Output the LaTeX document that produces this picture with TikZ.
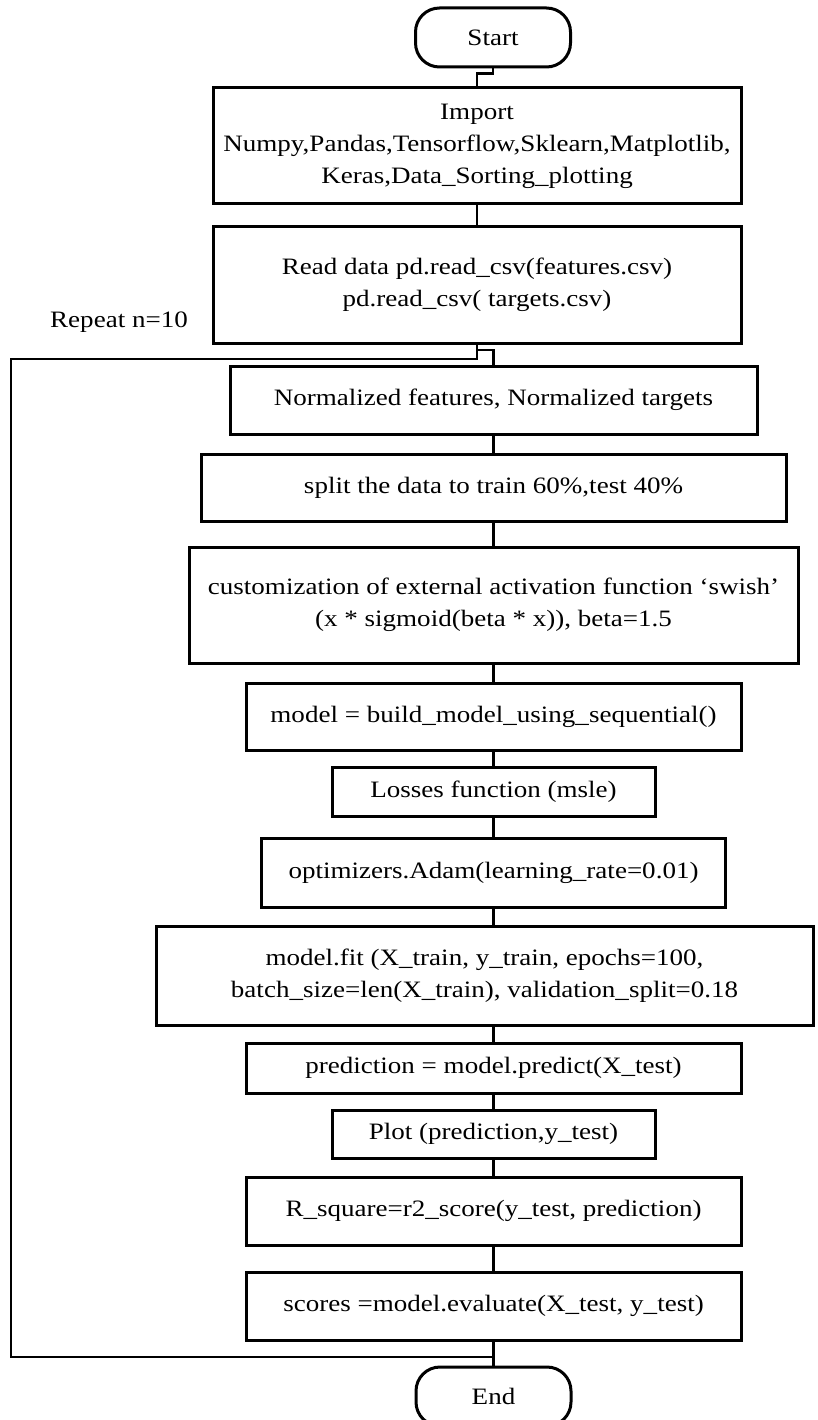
\documentclass[tikz,border=0pt]{standalone}
\usepackage{fontspec}
\setmainfont{Liberation Serif}[FakeStretch=1.15]
\usepackage{tikz}

\begin{document}
\begin{tikzpicture}[x=1pt,y=-1pt,
	txt/.style={font=\fontsize{23.5}{32}\selectfont},
	box/.style={txt,draw,line width=3pt,align=center,inner sep=0pt},
	term/.style={box,rounded corners=24pt,minimum width=155pt,minimum height=59pt},
	link/.style={line width=2.4pt}]
	\useasboundingbox (0,0) rectangle (817,1420);
	\node (start) at (493,37.5) [term] {Start};
	\node (import) at (477,146) [box,minimum width=528pt,minimum height=116pt] {Import\\Numpy,Pandas,Tensorflow,Sklearn,Matplotlib,\\Keras,Data\_Sorting\_plotting};
	\node (read) at (477,285) [box,minimum width=528pt,minimum height=116pt] {Read data pd.read\_csv(features.csv)\\pd.read\_csv( targets.csv)};
	\node (repeat) at (119,322) [txt] {Repeat n=10};
	\node (norm) at (493.5,400) [box,minimum width=527pt,minimum height=68pt] {Normalized features, Normalized targets};
	\node (split) at (493.5,487.5) [box,minimum width=585pt,minimum height=67pt] {split the data to train 60\%,test 40\%};
	\node (custom) at (493.5,605) [box,minimum width=609pt,minimum height=116pt] {customization of external activation function ‘swish’\\(x * sigmoid(beta * x)), beta=1.5};
	\node (model) at (493.5,716.5) [box,minimum width=495pt,minimum height=67pt] {model = build\_model\_using\_sequential()};
	\node (loss) at (493.5,791.5) [box,minimum width=323pt,minimum height=49pt] {Losses function (msle)};
	\node (adam) at (493.5,872.5) [box,minimum width=464pt,minimum height=69pt] {optimizers.Adam(learning\_rate=0.01)};
	\node (fit) at (484.5,975.5) [box,minimum width=657pt,minimum height=99pt] {model.fit (X\_train, y\_train, epochs=100,\\batch\_size=len(X\_train), validation\_split=0.18};
	\node (pred) at (493.5,1068) [box,minimum width=495pt,minimum height=50pt] {prediction = model.predict(X\_test)};
	\node (plot) at (493.5,1134) [box,minimum width=323pt,minimum height=48pt] {Plot (prediction,y\_test)};
	\node (rsq) at (493.5,1211) [box,minimum width=495pt,minimum height=68pt] {R\_square=r2\_score(y\_test, prediction)};
	\node (scores) at (493.5,1306) [box,minimum width=495pt,minimum height=68pt] {scores =model.evaluate(X\_test, y\_test)};
	\node (end) at (493.5,1396.5) [term] {End};
	\coordinate (jread) at (477,350);
	\coordinate (jloop) at (493.5,1357);
	\draw[link] (start.south) -- ++(0,5) -| (import.north);
	\draw[link] (import.south) -- (read.north);
	\draw[link] (read.south) -- (jread) -| (norm.north);
	\draw[link] (norm.south) -- (split.north);
	\draw[link] (split.south) -- (custom.north);
	\draw[link] (custom.south) -- (model.north);
	\draw[link] (model.south) -- (loss.north);
	\draw[link] (loss.south) -- (adam.north);
	\draw[link] (adam.south) -- (adam.south |- fit.north);
	\draw[link] (fit.south -| pred.north) -- (pred.north);
	\draw[link] (pred.south) -- (plot.north);
	\draw[link] (plot.south) -- (rsq.north);
	\draw[link] (rsq.south) -- (scores.north);
	\draw[link] (scores.south) -- (end.north);
	\draw[link] (jloop) -| (11,359) -| (jread);
\end{tikzpicture}
\end{document}
